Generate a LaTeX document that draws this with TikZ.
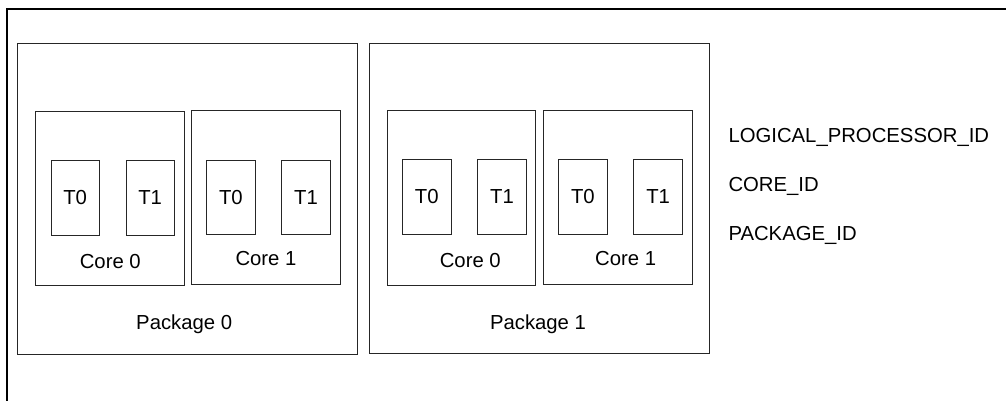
\documentclass[tikz,border=0pt]{standalone}
\usepackage{fontspec}
\setmainfont{Liberation Sans}
\newcommand\bx[6]{\node[box, minimum width={#4-#2}, minimum height={#5-#3}] (#1) at ({(#2+#4)/2},{(#3+#5)/2}) {#6};}
\begin{document}
\begin{tikzpicture}[x=1pt,y=-1pt,
  box/.style={draw=black!85, line width=1pt, inner sep=0pt, outer sep=0pt, rectangle},
  lbl/.style={inner sep=0pt, anchor=base},
  lbll/.style={inner sep=0pt, anchor=base west},
  every node/.append style={font=\fontsize{20.3}{24}\selectfont}]
\useasboundingbox (0,0) rectangle (1006,400);
% outer frame (only top and left edges visible)
\coordinate (fbl) at (7,402);
\coordinate (ftr) at (1008,8.8);
\draw[line width=2pt] (fbl) |- (ftr);
% packages
\bx{pk0}{17.3}{43.3}{357.7}{354}{}
\bx{pk1}{369.5}{43.3}{709}{353.5}{}
% cores
\bx{p0c0}{35}{111}{184}{285}{}
\bx{p0c1}{191}{110.7}{340}{284.5}{}
\bx{p1c0}{387.3}{110.7}{535.7}{285}{}
\bx{p1c1}{543.3}{110.3}{692}{284.3}{}
% threads
\bx{p0c0t0}{51}{160}{99.3}{235}{T0}
\bx{p0c0t1}{126}{160.3}{174.3}{235.7}{T1}
\bx{p0c1t0}{206.5}{160}{255.2}{234.5}{T0}
\bx{p0c1t1}{281.7}{160}{330.2}{234.5}{T1}
\bx{p1c0t0}{402.3}{159.3}{451.3}{234.5}{T0}
\bx{p1c0t1}{477.5}{159.3}{526.5}{234.5}{T1}
\bx{p1c1t0}{558.3}{159.3}{607.5}{234.2}{T0}
\bx{p1c1t1}{633.5}{159.3}{682.7}{234.2}{T1}
% core labels
\node[lbl] (l00) at (110.3,268.3) {Core 0};
\node[lbl] (l01) at (266,265.7) {Core 1};
\node[lbl] (l10) at (470.3,267.7) {Core 0};
\node[lbl] (l11) at (625.7,265.7) {Core 1};
% package labels
\node[lbl] (lp0) at (184.2,329.8) {Package 0};
\node[lbl] (lp1) at (538,329.8) {Package 1};
% legend
\node[lbll] (lid) at (728.3,142.7) {LOGICAL\_PROCESSOR\_ID};
\node[lbll] (cid) at (728.3,191.7) {CORE\_ID};
\node[lbll] (pid) at (728.3,240.7) {PACKAGE\_ID};
\end{tikzpicture}
\end{document}
